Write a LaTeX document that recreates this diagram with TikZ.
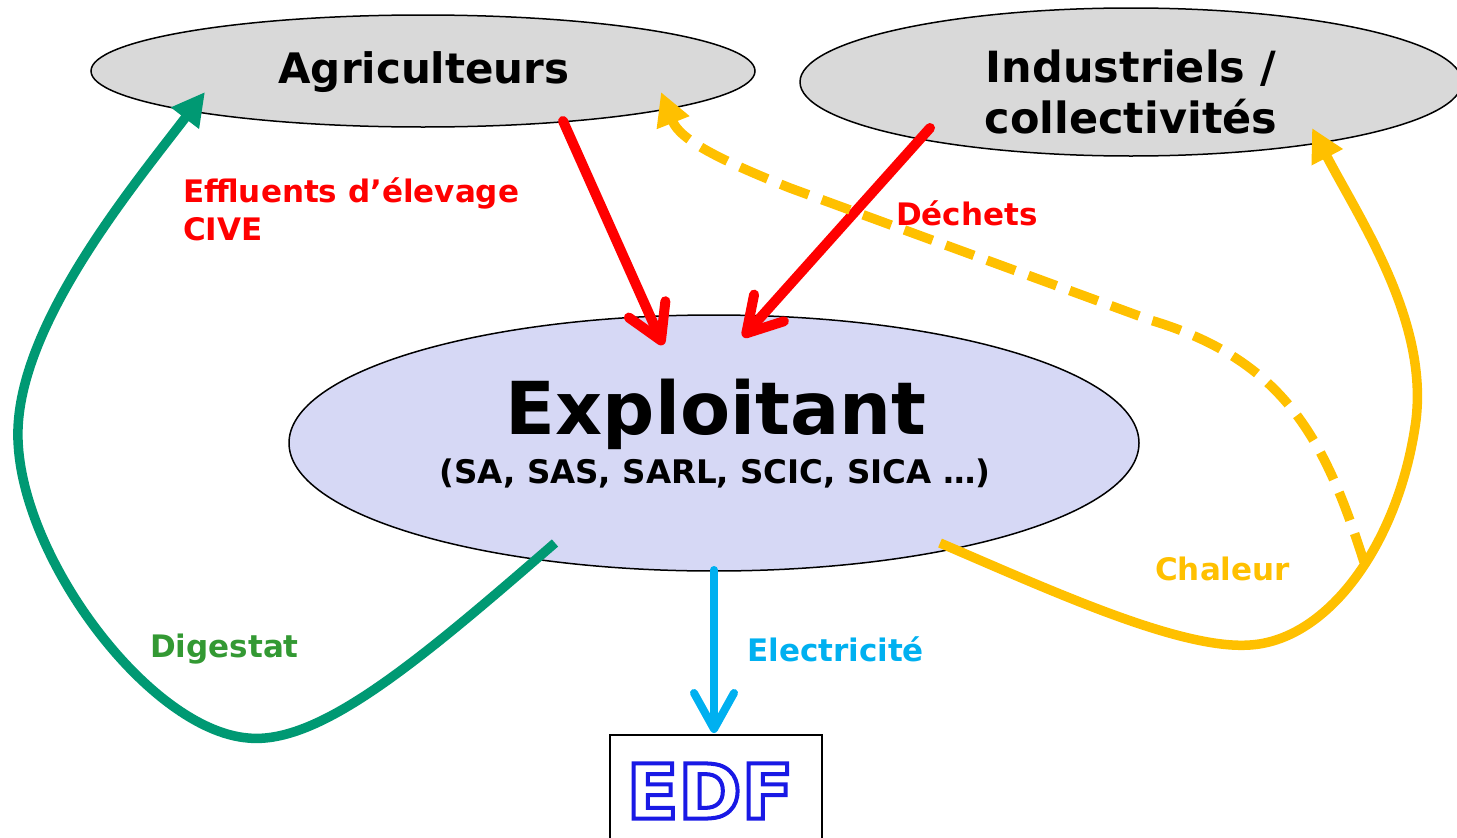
\documentclass[tikz,border=0pt]{standalone}
\usepackage{fontspec}
\setmainfont{DejaVu Sans}
\usetikzlibrary{arrows.meta,shapes.geometric}
\definecolor{ellgrey}{HTML}{D9D9D9}
\definecolor{ellblue}{HTML}{D6D8F5}
\definecolor{myred}{HTML}{FF0000}
\definecolor{mygreen}{HTML}{009973}
\definecolor{labgreen}{HTML}{339933}
\definecolor{myyellow}{HTML}{FFC000}
\definecolor{myblue}{HTML}{00B0F0}
\newcommand{\outlinedtext}[1]{\special{pdf:literal direct 2 Tr 4 w 0.1 0.1 0.9 RG}#1\special{pdf:literal direct 0 Tr}}
\tikzset{
  ell/.style={ellipse, draw=black, line width=1.5pt, inner sep=0pt},
  lab/.style={font=\bfseries\fontsize{31}{38}\selectfont, anchor=west, inner sep=0pt, align=left},
  barb/.style={-{Straight Barb[length=34pt,width=40pt,round]}, line cap=round},
  tri/.style={-{Triangle[length=33pt,width=33pt]}},
}
\begin{document}
\begin{tikzpicture}[x=1pt,y=-1pt]
\useasboundingbox (0,0) rectangle (1457,838);
% ellipses
\node[ell, fill=ellgrey, minimum width=664pt, minimum height=112pt] (agri) at (423,71) {};
\node[ell, fill=ellgrey, minimum width=662pt, minimum height=148pt] (indus) at (1131,82) {};
\node[ell, fill=ellblue, minimum width=850pt, minimum height=256pt] (expl) at (714,443) {};
\node[draw=black, line width=1.5pt, minimum width=212pt, minimum height=150pt, anchor=north west, inner sep=0pt] (edf) at (609,734) {};
% texts
\node[font=\bfseries\fontsize{42}{50}\selectfont, inner sep=0pt] (agritxt) at (424,72) {Agriculteurs};
\node[font=\bfseries\fontsize{43}{51}\selectfont, inner sep=0pt, align=center] (industxt) at (1131,92) {Industriels /\\collectivités};
\node[font=\bfseries\fontsize{73}{80}\selectfont, inner sep=0pt] (expltxt) at (716,414) {Exploitant};
\node[font=\bfseries\fontsize{32.5}{36}\selectfont, inner sep=0pt] (formtxt) at (715,473) {(SA, SAS, SARL, SCIC, SICA …)};
\node[font=\bfseries\fontsize{76}{80}\selectfont, inner sep=0pt, text=white] (edftxt) at (710,791) {\outlinedtext{EDF}};
% labels
\node[lab, text=myred] (effl) at (183,209) {Effluents d’élevage\\CIVE};
\node[lab, text=myred] (dech) at (896,213) {Déchets};
\node[lab, text=labgreen] (dig) at (150,649) {Digestat};
\node[lab, text=myblue] (elec) at (747,649) {Electricité};
\node[lab, text=myyellow] (chal) at (1155,569) {Chaleur};
% connector end points
\coordinate (a1) at (563,121);
\coordinate (e1) at (663,345);
\coordinate (i1) at (930,128);
\coordinate (e2) at (743,337);
\coordinate (e3) at (555,543);
\coordinate (a2) at (205,92);
\coordinate (e4) at (714,570);
\coordinate (d1) at (714,733);
\coordinate (e5) at (940,543);
\coordinate (i2) at (1312,128);
\coordinate (j) at (1364,562);
\coordinate (a3) at (661,92);
% connectors
\draw[barb, myred, line width=10pt] (a1) -- (e1);
\draw[barb, myred, line width=10pt] (i1) -- (e2);
\draw[myblue, line width=8pt, line cap=round, -{Straight Barb[length=36pt,width=40pt,round]}] (e4) -- (d1);
\draw[tri, mygreen, line width=9.5pt] (e3) .. controls (420,660) and (320,745) .. (248,738)
   .. controls (150,730) and (22,560) .. (18,440)
   .. controls (14,330) and (130,190) .. (a2);
\draw[tri, myyellow, line width=9.5pt] (e5) .. controls (1050,590) and (1180,650) .. (1250,645)
   .. controls (1330,640) and (1400,540) .. (1416,420)
   .. controls (1428,320) and (1360,220) .. (i2);
\draw[tri, myyellow, line width=9.5pt, dash pattern=on 30pt off 14pt] (j)
   .. controls (1325,440) and (1285,360) .. (1150,320)
   -- (790,188) .. controls (720,160) and (680,140) .. (a3);
\end{tikzpicture}
\end{document}
